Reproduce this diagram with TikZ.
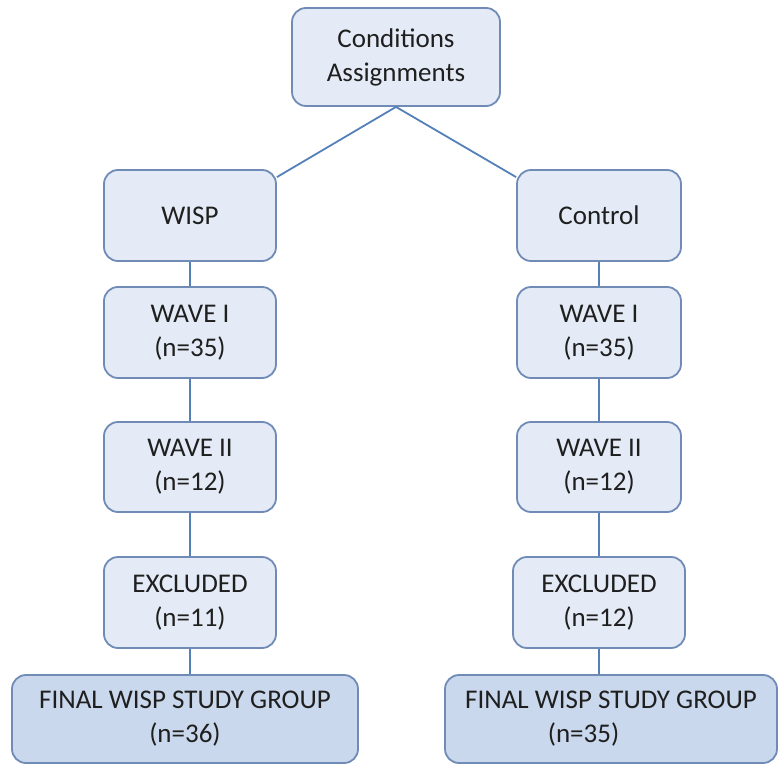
\documentclass[tikz,border=0pt]{standalone}
\usepackage{fontspec}
\setmainfont{Carlito}
\definecolor{boxfill}{RGB}{228,235,246}
\definecolor{finfill}{RGB}{201,216,236}
\definecolor{boxline}{RGB}{112,140,182}
\definecolor{linkline}{RGB}{84,128,186}
\begin{document}
\begin{tikzpicture}[x=1pt,y=1pt,
  box/.style={draw=boxline, line width=1.8pt, fill=boxfill, rounded corners=14pt, align=center, inner sep=0pt,
    font=\fontsize{27}{34}\selectfont, text=black!88},
  finbox/.style={box, fill=finfill},
  link/.style={draw=linkline, line width=1.8pt}]
  \useasboundingbox (0,0) rectangle (778,764);
  \node[box, minimum width=208, minimum height=98] (cond) at (396,707) {Conditions\\Assignments};
  \node[box, minimum width=172, minimum height=91] (wisp) at (190,548.5) {WISP};
  \node[box, minimum width=164, minimum height=91] (ctrl) at (599,548.5) {Control};
  \node[box, minimum width=172, minimum height=91] (lwa) at (190,431.5) {WAVE I\\(n=35)};
  \node[box, minimum width=172, minimum height=90] (lwb) at (190,297) {WAVE II\\(n=12)};
  \node[box, minimum width=172, minimum height=91] (lex) at (190,161.5) {EXCLUDED\\(n=11)};
  \node[finbox, minimum width=346, minimum height=88] (lfin) at (185,45) {FINAL WISP STUDY GROUP\\(n=36)};
  \node[box, minimum width=164, minimum height=91] (rwa) at (599,431.5) {WAVE I\\(n=35)};
  \node[box, minimum width=164, minimum height=90] (rwb) at (599,297) {WAVE II\\(n=12)};
  \node[box, minimum width=172, minimum height=91] (rex) at (599,161.5) {EXCLUDED\\(n=12)};
  \node[finbox, minimum width=332, minimum height=88] (rfin) at (611,45) {FINAL WISP STUDY GROUP\\(n=35)\hspace*{55pt}};
  % links
  \draw[link] (cond.south) -- ([yshift=-8pt]wisp.north east);
  \draw[link] (cond.south) -- ([yshift=-8pt]ctrl.north west);
  \draw[link] (wisp) -- (lwa);
  \draw[link] (lwa) -- (lwb);
  \draw[link] (lwb) -- (lex);
  \draw[link] (lex) -- (lfin.north -| lex);
  \draw[link] (ctrl) -- (rwa);
  \draw[link] (rwa) -- (rwb);
  \draw[link] (rwb) -- (rex);
  \draw[link] (rex) -- (rfin.north -| rex);
\end{tikzpicture}
\end{document}
